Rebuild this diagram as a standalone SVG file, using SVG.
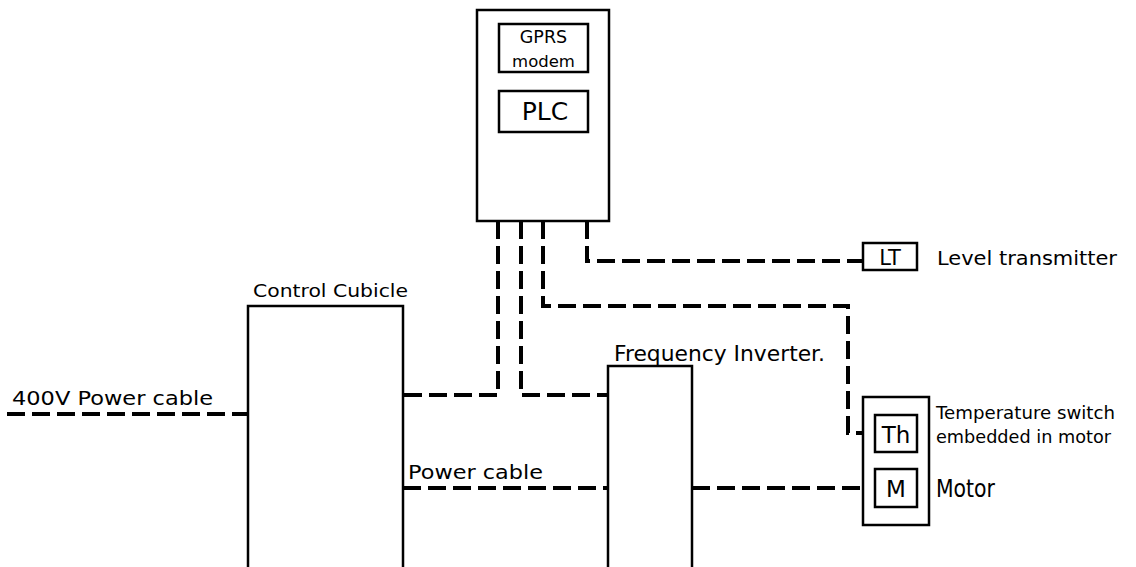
<svg xmlns="http://www.w3.org/2000/svg" width="1136" height="567" viewBox="0 0 1136 567">
<style>
.box{fill:#fff;stroke:#000;stroke-width:2.5}
.cable{fill:none;stroke:#000;stroke-width:4;stroke-dasharray:18 7}
text{font-family:"DejaVu Sans","Liberation Sans",sans-serif;fill:#000}
</style>
<rect width="1136" height="567" fill="#fff"/>
<g id="connectors">
<path class="cable" d="M498,221 V395 H403"/>
<path class="cable" d="M521,221 V395 H608"/>
<path class="cable" d="M543,221 V306 H848 V433 H875"/>
<path class="cable" d="M587,221 V261 H863"/>
<path class="cable" d="M7,414 H248"/>
<path class="cable" d="M403,488 H608"/>
<path class="cable" d="M692,488 H875"/>
</g>
<g id="plc-cabinet">
<rect class="box" x="477" y="10" width="132" height="211"/>
</g>
<g id="gprs-modem">
<rect class="box" x="499" y="24" width="89" height="48"/>
<text x="543.5" y="43" font-size="17.5" text-anchor="middle">GPRS</text>
<text x="543.5" y="67" font-size="16.5" text-anchor="middle">modem</text>
</g>
<g id="plc">
<rect class="box" x="499" y="91" width="89" height="41"/>
<text x="545" y="120" font-size="25" text-anchor="middle">PLC</text>
</g>
<g id="control-cubicle">
<rect class="box" x="248" y="306" width="155" height="275"/>
<text x="253" y="297" font-size="18" textLength="155" lengthAdjust="spacingAndGlyphs">Control Cubicle</text>
</g>
<g id="frequency-inverter">
<rect class="box" x="608" y="366" width="84" height="215"/>
<text x="614" y="361" font-size="21" textLength="211" lengthAdjust="spacingAndGlyphs">Frequency Inverter.</text>
</g>
<g id="level-transmitter">
<rect class="box" x="863" y="243" width="54" height="27"/>
<text x="890" y="265" font-size="21" text-anchor="middle">LT</text>
<text x="937" y="265" font-size="20" textLength="180" lengthAdjust="spacingAndGlyphs">Level transmitter</text>
</g>
<g id="motor-housing">
<rect class="box" x="863" y="397" width="66" height="128"/>
<text x="936" y="419" font-size="17" textLength="179" lengthAdjust="spacingAndGlyphs">Temperature switch</text>
<text x="936" y="443" font-size="17" textLength="175" lengthAdjust="spacingAndGlyphs">embedded in motor</text>
<text x="936" y="497" font-size="24" textLength="59" lengthAdjust="spacingAndGlyphs">Motor</text>
</g>
<g id="temperature-switch">
<rect class="box" x="875" y="415" width="42" height="37"/>
<text x="896" y="443" font-size="23" text-anchor="middle">Th</text>
</g>
<g id="motor">
<rect class="box" x="875" y="469" width="42" height="38"/>
<text x="896" y="497" font-size="23" text-anchor="middle">M</text>
</g>
<g id="labels">
<text x="12" y="405" font-size="19" textLength="201" lengthAdjust="spacingAndGlyphs">400V Power cable</text>
<text x="408" y="479" font-size="19" textLength="135" lengthAdjust="spacingAndGlyphs">Power cable</text>
</g>
</svg>
